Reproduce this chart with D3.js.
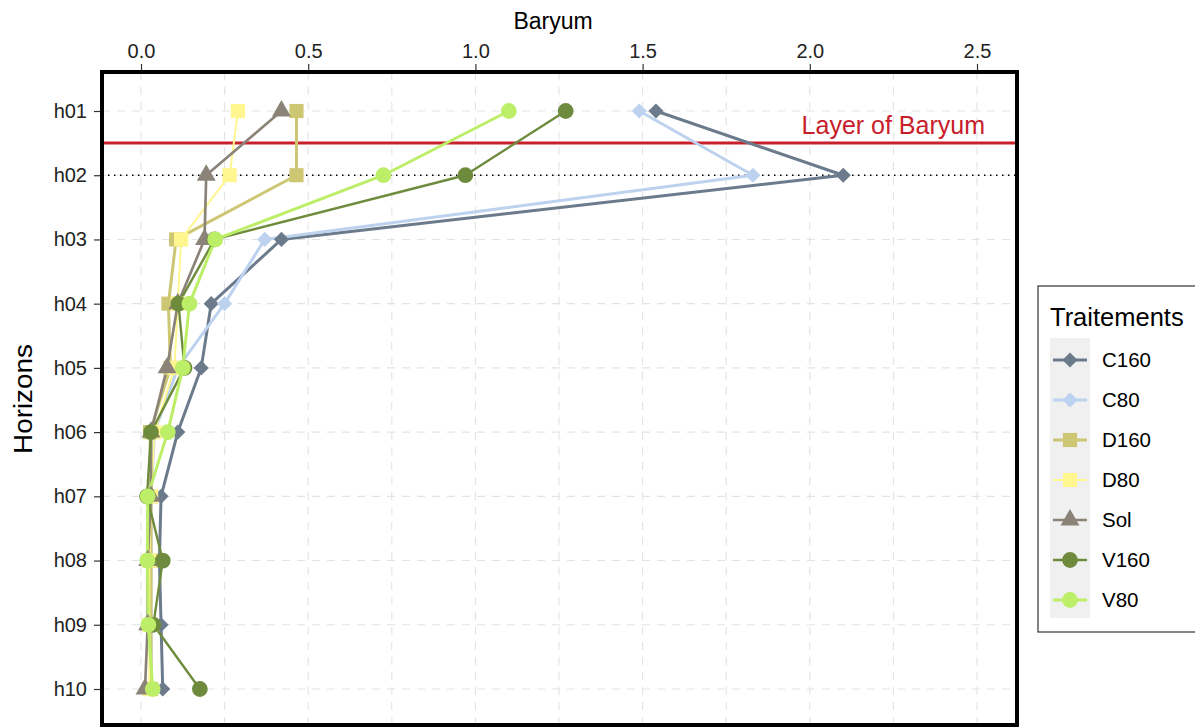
<!DOCTYPE html>
<html><head><meta charset="utf-8">
<script src="https://cdn.jsdelivr.net/npm/d3@7"></script>
<style>
html,body{margin:0;padding:0;background:#fff;}
svg{display:block;font-family:"Liberation Sans",Arial,sans-serif;}
</style></head>
<body><svg id="chart" width="1195" height="727"></svg>
<script>
const horizons = ["h01","h02","h03","h04","h05","h06","h07","h08","h09","h10"];
const treatments = ["C160","C80","D160","D80","Sol","V160","V80"];
const C160 = [1.54, 2.10, 0.42, 0.21, 0.18, 0.11, 0.06, 0.055, 0.06, 0.065];
const C80  = [1.49, 1.83, 0.37, 0.25, 0.11, 0.04, 0.03, 0.03, 0.03, 0.03];
const D160 = [0.465, 0.465, 0.105, 0.082, 0.088, 0.027, 0.03, 0.03, 0.03, 0.03];
const D80  = [0.29, 0.265, 0.12, 0.11, 0.10, 0.04, 0.03, 0.025, 0.025, 0.025];
const Sol  = [0.42, 0.195, 0.19, 0.11, 0.078, 0.03, 0.03, 0.02, 0.02, 0.012];
const V160 = [1.27, 0.97, 0.22, 0.112, 0.13, 0.03, 0.018, 0.065, 0.037, 0.176];
const V80  = [1.10, 0.725, 0.222, 0.145, 0.125, 0.08, 0.02, 0.019, 0.022, 0.035];
const xTicks = [0, 0.5, 1.0, 1.5, 2.0, 2.5];
const xGrid = [0, 0.25, 0.5, 0.75, 1.0, 1.25, 1.5, 1.75, 2.0, 2.25, 2.5];
const layerLabel = "Layer of Baryum";
const layerPos = 1.5; // between h01 and h02 (index units)
const dottedHorizon = "h02";

const seriesValues = {C160, C80, D160, D80, Sol, V160, V80};
const colors = {C160:"#6c7b8b", C80:"#bcd2ee", D160:"#cdc673", D80:"#fff68f", Sol:"#8b8378", V160:"#6e8b3d", V80:"#bcee68"};
const rotSquare = { draw(ctx, size) { const r = Math.sqrt(size/2); ctx.moveTo(0,-r); ctx.lineTo(r,0); ctx.lineTo(0,r); ctx.lineTo(-r,0); ctx.closePath(); } };
const shapes = {C160:rotSquare, C80:rotSquare, D160:d3.symbolSquare, D80:d3.symbolSquare, Sol:d3.symbolTriangle, V160:d3.symbolCircle, V80:d3.symbolCircle};
const symSize = {C160:115, C80:115, D160:200, D80:200, Sol:155, V160:195, V80:195};
const lineW = {C160:3, C80:3, D160:3, D80:2, Sol:2.7, V160:2.4, V80:3};

const svg = d3.select("#chart");
const P = {left:102, right:1017, top:72, bottom:725};

const x = d3.scaleLinear().domain([0, 2.5]).range([141, 977]);
const y = d3.scalePoint().domain(horizons).range([111, 689]);
const yIdx = d3.scaleLinear().domain([1, 10]).range([111, 689]);

// grid
const grid = svg.append("g");
grid.selectAll("line.vx").data(xGrid).join("line")
  .attr("x1", d=>x(d)).attr("x2", d=>x(d)).attr("y1", P.top).attr("y2", P.bottom)
  .attr("stroke", "#e3e3e3").attr("stroke-width", 1.1).attr("stroke-dasharray", "8,7");
grid.selectAll("line.hy").data(horizons).join("line")
  .attr("x1", P.left).attr("x2", P.right).attr("y1", d=>y(d)).attr("y2", d=>y(d))
  .attr("stroke", "#e3e3e3").attr("stroke-width", 1.1).attr("stroke-dasharray", "8,7");

// reference lines
svg.append("line").attr("x1", P.left).attr("x2", P.right)
  .attr("y1", yIdx(layerPos)).attr("y2", yIdx(layerPos))
  .attr("stroke", "#c8202a").attr("stroke-width", 3);
svg.append("line").attr("x1", P.left).attr("x2", P.right)
  .attr("y1", y(dottedHorizon)).attr("y2", y(dottedHorizon))
  .attr("stroke", "#000").attr("stroke-width", 1.5).attr("stroke-dasharray", "1.5,4.5");
svg.append("text").attr("x", 985).attr("y", 134).attr("text-anchor", "end")
  .attr("fill", "#c8202a").attr("font-size", 25).text(layerLabel);

// lines
const lineGen = d3.line().x(d=>x(d.v)).y(d=>y(d.h));
treatments.forEach(t => {
  const pts = horizons.map((h,i)=>({h, v: seriesValues[t][i]}));
  svg.append("path").datum(pts).attr("d", lineGen).attr("fill","none")
    .attr("stroke", colors[t]).attr("stroke-width", lineW[t]).attr("stroke-linejoin","round");
});
// points
treatments.forEach(t => {
  const pts = horizons.map((h,i)=>({h, v: seriesValues[t][i]}));
  svg.append("g").selectAll("path").data(pts).join("path")
    .attr("transform", d=>`translate(${x(d.v)},${y(d.h)})`)
    .attr("d", d3.symbol().type(shapes[t]).size(symSize[t]))
    .attr("fill", colors[t]);
});

// panel border
svg.append("rect").attr("x", P.left).attr("y", P.top)
  .attr("width", P.right-P.left).attr("height", P.bottom-P.top)
  .attr("fill","none").attr("stroke","#000").attr("stroke-width",4);

// top axis
const xAxis = d3.axisTop(x).tickValues(xTicks).tickFormat(d3.format(".1f")).tickSize(6).tickPadding(6);
const gx = svg.append("g").attr("transform", `translate(0,${P.top-2})`).call(xAxis);
gx.select(".domain").remove();
gx.selectAll(".tick line").attr("stroke","#333").attr("stroke-width",1.2);
gx.selectAll(".tick text").attr("fill","#222").attr("font-size",20)
  .attr("font-family","'Liberation Sans Narrow','Liberation Sans',Arial,sans-serif");

// left axis
const yAxis = d3.axisLeft(y).tickSize(6).tickPadding(7);
const gy = svg.append("g").attr("transform", `translate(${P.left-2},0)`).call(yAxis);
gy.select(".domain").remove();
gy.selectAll(".tick line").attr("stroke","#333").attr("stroke-width",1.2);
gy.selectAll(".tick text").attr("fill","#222").attr("font-size",20)
  .attr("font-family","'Liberation Sans',Arial,sans-serif");

// axis titles
svg.append("text").attr("x", 553).attr("y", 29).attr("text-anchor","middle")
  .attr("font-size", 23).attr("fill","#000").text("Baryum");
svg.append("text").attr("transform","translate(32,399) rotate(-90)").attr("text-anchor","middle")
  .attr("font-size", 26).attr("textLength", 110).attr("lengthAdjust","spacingAndGlyphs")
  .attr("fill","#000").text("Horizons");

// legend
const lg = svg.append("g");
lg.append("rect").attr("x",1038).attr("y",286).attr("width",170).attr("height",346)
  .attr("fill","#fff").attr("stroke","#333").attr("stroke-width",1.2);
lg.append("text").attr("x",1050).attr("y",326).attr("font-size",25.5).attr("fill","#000").text("Traitements");
lg.append("rect").attr("x",1050).attr("y",338).attr("width",40).attr("height",280).attr("fill","#f0f0f0");
const ly = d3.scalePoint().domain(treatments).range([360, 600]);
treatments.forEach(t => {
  const cy = ly(t);
  lg.append("line").attr("x1",1053).attr("x2",1087).attr("y1",cy).attr("y2",cy)
    .attr("stroke",colors[t]).attr("stroke-width",lineW[t]);
  lg.append("path").attr("transform",`translate(1070,${cy})`)
    .attr("d", d3.symbol().type(shapes[t]).size(symSize[t])).attr("fill",colors[t]);
  lg.append("text").attr("x",1102).attr("y",cy+7).attr("font-size",20.5).attr("fill","#000").text(t);
});
</script></body></html>
